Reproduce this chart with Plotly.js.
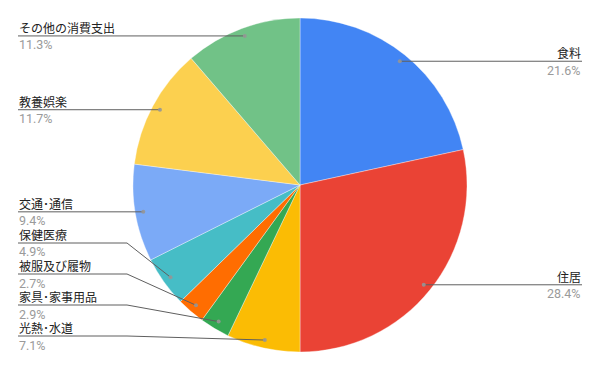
<!DOCTYPE html>
<html>
<head>
<meta charset="utf-8">
<script src="https://cdn.plot.ly/plotly-3.0.1.min.js"></script>
<style>
  html, body { margin: 0; padding: 0; background: #fff; }
  #chart { width: 600px; height: 371px; }
</style>
</head>
<body>
<div id="chart"></div>
<script>
// Household consumption expenditure breakdown (%)
const categories = ['食料', '住居', '光熱･水道', '家具･家事用品', '被服及び履物', '保健医療', '交通･通信', '教養娯楽', 'その他の消費支出'];
const shares = [21.6, 28.4, 7.1, 2.9, 2.7, 4.9, 9.4, 11.7, 11.3];
const sliceColors = ['#4285F4', '#EA4335', '#FBBC04', '#34A853', '#FF6D01', '#46BDC6', '#7BAAF7', '#FCD04F', '#71C287'];

// Geometry (pixels)
const W = 600, H = 371;
const cx = 300, cy = 185, R = 167;
const anchorFrac = 0.952;     // leader-line dot position inside slice
const leftX = 18, rightX = 582, elbowX = 127;
const rowGap = 31, bottomLimit = 336;
const nameOffset = 7, pctOffset = 9;

const px = x => x / W;
const py = y => 1 - y / H;

const total = shares.reduce((a, b) => a + b, 0);
let cum = 0;
const items = shares.map((v, i) => {
  const mid = (cum + v / 2) / total * 2 * Math.PI;
  cum += v;
  const r = R * anchorFrac;
  return {
    name: categories[i],
    pct: v.toFixed(1) + '%',
    dx: cx + r * Math.sin(mid),
    dy: cy - r * Math.cos(mid),
  };
});

// Place labels: right side at the dot height, left side stacked without overlap
items.forEach(it => { it.side = it.dx >= cx ? 'right' : 'left'; it.ly = it.dy; });
const left = items.filter(it => it.side === 'left').sort((a, b) => b.dy - a.dy);
let limit = bottomLimit;
left.forEach(it => { it.ly = Math.min(it.dy, limit); limit = it.ly - rowGap; });

const labelFont = 'Roboto, "Noto Sans CJK JP", sans-serif';
const shapes = [];
const annotations = [];
items.forEach(it => {
  let path;
  if (it.side === 'right') {
    path = `M ${px(it.dx)} ${py(it.ly)} L ${px(rightX)} ${py(it.ly)}`;
  } else if (Math.abs(it.ly - it.dy) < 0.5) {
    path = `M ${px(leftX)} ${py(it.ly)} L ${px(it.dx)} ${py(it.dy)}`;
  } else {
    path = `M ${px(leftX)} ${py(it.ly)} L ${px(elbowX)} ${py(it.ly)} L ${px(it.dx)} ${py(it.dy)}`;
  }
  shapes.push({ type: 'path', xref: 'paper', yref: 'paper', path: path,
    line: { color: '#5f5f5f', width: 1 } });
  shapes.push({ type: 'circle', xref: 'paper', yref: 'paper',
    x0: px(it.dx - 2), x1: px(it.dx + 2), y0: py(it.dy + 2), y1: py(it.dy - 2),
    fillcolor: 'rgba(150,150,150,0.9)', line: { width: 0 } });
  const tx = it.side === 'right' ? rightX : leftX;
  const anchor = it.side === 'right' ? 'right' : 'left';
  annotations.push({ xref: 'paper', yref: 'paper', x: px(tx), y: py(it.ly - nameOffset),
    xanchor: anchor, yanchor: 'middle', showarrow: false, borderpad: 0, text: it.name,
    font: { family: labelFont, size: 12, color: '#222222' } });
  annotations.push({ xref: 'paper', yref: 'paper', x: px(tx), y: py(it.ly + pctOffset),
    xanchor: anchor, yanchor: 'middle', showarrow: false, borderpad: 0, text: it.pct,
    font: { family: labelFont, size: 12.5, color: '#9a9a9a' } });
});

const trace = {
  type: 'pie',
  labels: categories,
  values: shares,
  sort: false,
  direction: 'clockwise',
  rotation: 0,
  textinfo: 'none',
  hoverinfo: 'label+percent',
  marker: { colors: sliceColors, line: { color: 'rgba(255,255,255,0.6)', width: 0.6 } },
  domain: { x: [(cx - R) / W, (cx + R) / W], y: [1 - (cy + R) / H, 1 - (cy - R) / H] },
  showlegend: false,
};

const layout = {
  width: W, height: H,
  margin: { l: 0, r: 0, t: 0, b: 0 },
  paper_bgcolor: '#ffffff',
  showlegend: false,
  shapes: shapes,
  annotations: annotations,
};

Plotly.newPlot('chart', [trace], layout, { displayModeBar: false, staticPlot: true });
</script>
</body>
</html>
